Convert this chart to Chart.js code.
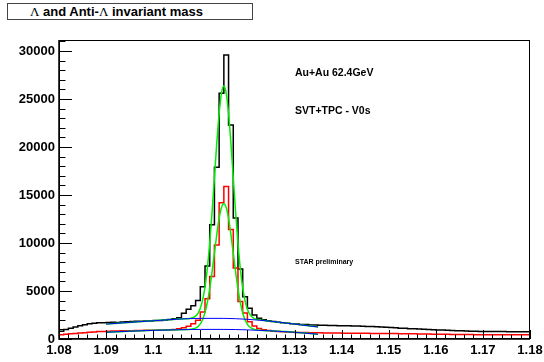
<!DOCTYPE html>
<html>
<head>
<meta charset="utf-8">
<script src="https://cdn.jsdelivr.net/npm/chart.js@4/dist/chart.umd.min.js"></script>
<style>
  body { margin: 0; background: #fff; }
  #wrap { position: relative; width: 544px; height: 362px; }
  #title {
    position: absolute; left: 7px; top: 3px; width: 222px; height: 15px;
    padding-left: 22px;
    border: 1px solid #444; background: #fff;
    font: bold 13px "Liberation Sans", Arial, sans-serif; line-height: 15px;
    text-align: left; color: #000; white-space: nowrap;
  }
  #title .sym { font-family: "Liberation Serif", "DejaVu Serif", serif; font-weight: normal; }
</style>
</head>
<body>
<div id="wrap">
  <canvas id="massChart" width="544" height="362"></canvas>
  <div id="title"><span class="sym">Λ</span> and Anti-<span class="sym">Λ</span> invariant mass</div>
</div>
<script>
// histogram binning: 100 bins of 0.001 from 1.080 to 1.180
const binStart = 1.080;
const binWidth = 0.001;

// Lambda + anti-Lambda (black)
const allCounts = [
  800, 980, 1120, 1250, 1380, 1480, 1580, 1650, 1700, 1680,
  1720, 1740, 1730, 1780, 1800, 1820, 1840, 1860, 1880, 1870,
  1920, 1940, 1970, 2020, 2100, 2220, 2670, 3090, 3470, 4000,
  5450, 7600, 11900, 17900, 25600, 29600, 22300, 12600, 7300, 4400,
  3200, 2500, 2150, 2000, 1900, 1820, 1750, 1700, 1640, 1600,
  1550, 1520, 1500, 1470, 1450, 1430, 1420, 1410, 1400, 1390,
  1380, 1370, 1360, 1350, 1330, 1310, 1290, 1270, 1250, 1220,
  1190, 1160, 1130, 1110, 1080, 1060, 1030, 1010, 990, 970,
  950, 930, 910, 890, 870, 850, 830, 810, 800, 790,
  780, 780, 770, 770, 770, 760, 760, 760, 760, 760
];

// single species (red)
const singleCounts = [
  450, 500, 540, 580, 620, 660, 700, 740, 770, 790,
  810, 830, 840, 850, 860, 870, 880, 890, 900, 910,
  920, 930, 950, 970, 1000, 1080, 1180, 1330, 1580, 1950,
  2800, 4200, 6500, 9800, 14200, 15900, 11400, 7400, 3900, 2700,
  1800, 1350, 1100, 960, 880, 820, 780, 750, 720, 700,
  690, 680, 670, 660, 650, 640, 630, 625, 620, 615,
  610, 605, 600, 600, 595, 590, 585, 580, 575, 570,
  565, 560, 555, 550, 545, 540, 530, 520, 510, 500,
  495, 490, 485, 480, 475, 470, 465, 460, 455, 450,
  450, 445, 445, 440, 440, 435, 435, 430, 430, 430
];

// fit curves (green)
const fitAllX = [1.090, 1.095, 1.100, 1.103, 1.105, 1.1065, 1.107, 1.1075, 1.108, 1.1085,
  1.109, 1.1095, 1.110, 1.1105, 1.111, 1.1115, 1.112, 1.1125, 1.113, 1.1135,
  1.114, 1.1145, 1.115, 1.1155, 1.116, 1.1165, 1.117, 1.1175, 1.118, 1.1185,
  1.119, 1.1195, 1.120, 1.1205, 1.121, 1.1215, 1.122, 1.1225, 1.123, 1.125,
  1.128, 1.130, 1.1325, 1.135];
const fitAllY = [1550, 1730, 1900, 2000, 2060, 2100, 2110, 2120, 2170, 2240,
  2400, 2680, 3210, 4080, 5420, 7380, 10010, 13230, 16830, 20420,
  23510, 25600, 26350, 25600, 23500, 20400, 16800, 13200, 9960, 7310,
  5350, 3980, 3110, 2580, 2290, 2120, 2050, 2000, 1960, 1850,
  1680, 1550, 1400, 1250];

const fitSingleX = [1.090, 1.095, 1.100, 1.105, 1.1075, 1.108, 1.1085, 1.109, 1.1095, 1.110,
  1.1105, 1.111, 1.1115, 1.112, 1.1125, 1.113, 1.1135, 1.114, 1.1145, 1.115,
  1.1155, 1.116, 1.1165, 1.117, 1.1175, 1.118, 1.1185, 1.119, 1.1195, 1.120,
  1.1205, 1.121, 1.1215, 1.122, 1.1225, 1.125, 1.130, 1.135];
const fitSingleY = [700, 810, 900, 960, 990, 1010, 1060, 1140, 1290, 1580,
  2040, 2770, 3830, 5250, 7000, 8950, 10890, 12560, 13690, 14100,
  13690, 12560, 10890, 8950, 6980, 5230, 3800, 2740, 2000, 1530,
  1250, 1090, 1000, 950, 910, 850, 700, 500];

// background curves (blue)
const bgAllX = [1.090, 1.095, 1.100, 1.105, 1.110, 1.115, 1.120, 1.1225, 1.125, 1.128, 1.130, 1.1325, 1.135];
const bgAllY = [1550, 1730, 1900, 2060, 2150, 2150, 2050, 1960, 1850, 1680, 1550, 1400, 1250];
const bgSingleX = [1.090, 1.095, 1.100, 1.105, 1.110, 1.115, 1.120, 1.125, 1.130, 1.135];
const bgSingleY = [700, 810, 900, 960, 1000, 1000, 950, 850, 700, 500];

// axes
const xTickValues = [1.08, 1.09, 1.10, 1.11, 1.12, 1.13, 1.14, 1.15, 1.16, 1.17, 1.18];
const xTickLabels = ['1.08', '1.09', '1.1', '1.11', '1.12', '1.13', '1.14', '1.15', '1.16', '1.17', '1.18'];
const yTickValues = [0, 5000, 10000, 15000, 20000, 25000, 30000];
const yTickLabels = ['0', '5000', '10000', '15000', '20000', '25000', '30000'];
const yMax = 31150;

function histPoints(counts) {
  // left edges with step, plus closing point at the last right edge
  let pts = counts.map((c, i) => ({ x: binStart + i * binWidth, y: c }));
  pts.push({ x: binStart + counts.length * binWidth, y: counts[counts.length - 1] });
  return pts;
}

function curvePoints(xs, ys) {
  return xs.map((x, i) => ({ x: x, y: ys[i] }));
}

const FONT = '"Liberation Sans", Arial, sans-serif';

// ROOT style frame, inside ticks and labels
const rootFrame = {
  id: 'rootFrame',
  afterDraw(chart) {
    const ctx = chart.ctx;
    const a = chart.chartArea;
    const x = chart.scales.x;
    const y = chart.scales.y;
    ctx.save();
    ctx.strokeStyle = '#000';
    ctx.lineWidth = 1;
    ctx.strokeRect(a.left + 0.5, a.top + 0.5, a.right - a.left - 1, a.bottom - a.top - 1);

    ctx.lineWidth = 1.5;
    ctx.beginPath();
    ctx.moveTo(a.left, a.top);
    ctx.lineTo(a.left, a.bottom);
    ctx.lineTo(a.right, a.bottom);
    ctx.stroke();

    // y ticks every 1000, major every 5000
    ctx.lineWidth = 1;
    ctx.beginPath();
    for (let v = 0; v <= yMax; v += 1000) {
      const py = Math.round(y.getPixelForValue(v)) + 0.5;
      const len = v % 5000 === 0 ? 13 : 6.5;
      ctx.moveTo(a.left, py);
      ctx.lineTo(a.left + len, py);
    }
    // x ticks every 0.002, major every 0.01
    for (let i = 0; i <= 50; i++) {
      const v = binStart + i * 0.002;
      const px = Math.round(x.getPixelForValue(v)) + 0.5;
      const len = i % 5 === 0 ? 9 : 4.5;
      ctx.moveTo(px, a.bottom);
      ctx.lineTo(px, a.bottom - len);
    }
    ctx.stroke();

    // labels
    ctx.fillStyle = '#000';
    ctx.textBaseline = 'middle';
    ctx.textAlign = 'left';
    ctx.font = 'bold 10.5px ' + FONT;
    ctx.fillText('Au+Au 62.4GeV', x.getPixelForValue(1.1301), y.getPixelForValue(27700));
    ctx.fillText('SVT+TPC - V0s', x.getPixelForValue(1.1301), y.getPixelForValue(23700));
    ctx.font = 'bold 7px ' + FONT;
    ctx.fillText('STAR preliminary', x.getPixelForValue(1.1301), y.getPixelForValue(8000));
    ctx.restore();
  }
};

window.addEventListener('load', function() {
  let ctx = document.getElementById('massChart').getContext('2d');
  new Chart(ctx, {
    type: 'line',
    data: {
      datasets: [
        { data: curvePoints(bgAllX, bgAllY), borderColor: '#0000ff', borderWidth: 1, cubicInterpolationMode: 'monotone' },
        { data: curvePoints(bgSingleX, bgSingleY), borderColor: '#0000ff', borderWidth: 1, cubicInterpolationMode: 'monotone' },
        { data: curvePoints(fitAllX, fitAllY), borderColor: '#00ee00', borderWidth: 1.5, cubicInterpolationMode: 'monotone' },
        { data: curvePoints(fitSingleX, fitSingleY), borderColor: '#00ee00', borderWidth: 1.5, cubicInterpolationMode: 'monotone' },
        { data: histPoints(singleCounts), borderColor: '#ff0000', borderWidth: 1.5, stepped: 'before' },
        { data: histPoints(allCounts), borderColor: '#000000', borderWidth: 1.5, stepped: 'before' }
      ]
    },
    options: {
      responsive: false,
      animation: false,
      devicePixelRatio: 1,
      elements: { point: { radius: 0 }, line: { fill: false } },
      layout: { padding: { top: 40, right: 14, left: 0, bottom: 0 } },
      plugins: { legend: { display: false }, tooltip: { enabled: false }, title: { display: false } },
      scales: {
        x: {
          type: 'linear', min: 1.08, max: 1.18,
          grid: { display: false, drawTicks: false },
          border: { display: false },
          ticks: {
            color: '#000', padding: 4, maxRotation: 0, autoSkip: false,
            font: { family: FONT, weight: 'bold', size: 13 },
            callback: (v, i) => xTickLabels[i]
          },
          afterBuildTicks: s => { s.ticks = xTickValues.map(v => ({ value: v })); },
          afterFit: s => { s.height = 23; s.paddingLeft = 0; s.paddingRight = 0; }
        },
        y: {
          min: 0, max: yMax,
          grid: { display: false, drawTicks: false },
          border: { display: false },
          ticks: {
            color: '#000', padding: 4, autoSkip: false,
            font: { family: FONT, weight: 'bold', size: 13 },
            callback: (v, i) => yTickLabels[i]
          },
          afterBuildTicks: s => { s.ticks = yTickValues.map(v => ({ value: v })); },
          afterFit: s => { s.width = 59; s.paddingTop = 0; s.paddingBottom = 0; }
        }
      }
    },
    plugins: [rootFrame]
  });
});
</script>
</body>
</html>
